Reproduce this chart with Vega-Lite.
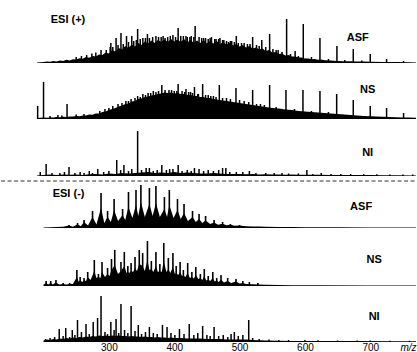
{
"$schema": "https://vega.github.io/schema/vega-lite/v6.json",
"autosize": {"type": "pad"},
"padding": 0,
"background": "white",
"config": {"view": {"stroke": null}},
"spacing": 0,
"bounds": "flush",
"datasets": {
"e1": [{"mz":190,"v":0.5},{"mz":195,"v":0.8},{"mz":200,"v":1},{"mz":205,"v":1.4},{"mz":210,"v":1.2},{"mz":215,"v":2},{"mz":220,"v":1.6},{"mz":225,"v":2.4},{"mz":230,"v":2},{"mz":235,"v":3.2},{"mz":240,"v":2.6},{"mz":245,"v":3.8},{"mz":250,"v":3.4},{"mz":255,"v":4.8},{"mz":260,"v":4.2},{"mz":265,"v":6},{"mz":270,"v":5.2},{"mz":275,"v":7},{"mz":280,"v":6.5},{"mz":285,"v":8.5},{"mz":290,"v":8},{"mz":295,"v":10.5},{"mz":300,"v":9.5},{"mz":305,"v":13},{"mz":310,"v":11.5},{"mz":315,"v":15},{"mz":320,"v":13.5},{"mz":325,"v":17},{"mz":330,"v":15},{"mz":335,"v":18.5},{"mz":340,"v":16.5},{"mz":345,"v":20},{"mz":350,"v":18},{"mz":355,"v":21.5},{"mz":360,"v":19.5},{"mz":365,"v":22.5},{"mz":370,"v":20},{"mz":375,"v":23},{"mz":380,"v":21},{"mz":385,"v":23.5},{"mz":390,"v":21},{"mz":395,"v":24},{"mz":400,"v":21.5},{"mz":405,"v":23.5},{"mz":410,"v":21},{"mz":415,"v":24},{"mz":420,"v":20.5},{"mz":425,"v":23},{"mz":430,"v":20},{"mz":435,"v":22.5},{"mz":440,"v":20},{"mz":445,"v":23},{"mz":450,"v":19.5},{"mz":455,"v":22},{"mz":460,"v":19.5},{"mz":465,"v":22},{"mz":470,"v":19},{"mz":475,"v":21},{"mz":480,"v":18.5},{"mz":485,"v":20},{"mz":490,"v":17.5},{"mz":495,"v":19},{"mz":500,"v":16.5},{"mz":505,"v":18},{"mz":510,"v":15.5},{"mz":515,"v":17},{"mz":520,"v":14.5},{"mz":525,"v":15.5},{"mz":530,"v":13.5},{"mz":535,"v":14.5},{"mz":540,"v":12},{"mz":545,"v":13},{"mz":550,"v":10.5},{"mz":555,"v":11},{"mz":560,"v":9},{"mz":565,"v":9.5},{"mz":570,"v":7.5},{"mz":575,"v":8},{"mz":580,"v":6.5},{"mz":585,"v":6.5},{"mz":590,"v":5.5},{"mz":595,"v":5.5},{"mz":600,"v":4.5},{"mz":605,"v":4.5},{"mz":610,"v":3.8},{"mz":615,"v":4},{"mz":620,"v":3.2},{"mz":625,"v":3.4},{"mz":630,"v":2.8},{"mz":640,"v":2.4},{"mz":650,"v":2},{"mz":660,"v":1.8},{"mz":670,"v":1.7},{"mz":680,"v":1.5},{"mz":690,"v":1.4},{"mz":700,"v":1.3},{"mz":720,"v":1.1},{"mz":740,"v":1},{"mz":760,"v":0.8},{"mz":770,"v":0.6}],
"k1": [{"mz":250,"v":6},{"mz":258,"v":7},{"mz":266,"v":8},{"mz":274,"v":9.5},{"mz":280,"v":10.5},{"mz":288,"v":13},{"mz":296,"v":13},{"mz":302,"v":16},{"mz":303,"v":20},{"mz":306,"v":16},{"mz":311,"v":25},{"mz":314,"v":18},{"mz":318.5,"v":30},{"mz":322,"v":19},{"mz":327,"v":27},{"mz":330,"v":21},{"mz":335,"v":27},{"mz":338,"v":22},{"mz":342,"v":23},{"mz":344,"v":34},{"mz":348,"v":24},{"mz":352,"v":25},{"mz":356,"v":25},{"mz":359,"v":29},{"mz":362,"v":25},{"mz":367,"v":26},{"mz":372,"v":27},{"mz":376,"v":26},{"mz":380,"v":26},{"mz":383,"v":27},{"mz":386,"v":25},{"mz":390,"v":26},{"mz":394,"v":27},{"mz":398,"v":28},{"mz":402,"v":26},{"mz":406,"v":35},{"mz":410,"v":27},{"mz":414,"v":27},{"mz":418,"v":27},{"mz":420,"v":26},{"mz":424,"v":26},{"mz":426,"v":27},{"mz":430,"v":26},{"mz":432,"v":37},{"mz":438,"v":26},{"mz":442,"v":25},{"mz":445,"v":25},{"mz":448,"v":25},{"mz":452,"v":24},{"mz":455,"v":25},{"mz":457,"v":26},{"mz":462,"v":24},{"mz":464,"v":24},{"mz":468,"v":24},{"mz":470,"v":25},{"mz":474,"v":23},{"mz":476,"v":23},{"mz":480,"v":22},{"mz":483,"v":21},{"mz":486,"v":22},{"mz":488,"v":22},{"mz":492,"v":21},{"mz":495,"v":27},{"mz":498,"v":20},{"mz":503,"v":20},{"mz":507,"v":20},{"mz":512,"v":19},{"mz":516,"v":19},{"mz":520,"v":26},{"mz":526,"v":18},{"mz":530,"v":17},{"mz":534,"v":23},{"mz":540,"v":16},{"mz":546,"v":29},{"mz":551,"v":14},{"mz":556,"v":13},{"mz":559,"v":13},{"mz":565,"v":11},{"mz":572,"v":44},{"mz":578,"v":9},{"mz":585,"v":12},{"mz":590,"v":7},{"mz":597.5,"v":39},{"mz":610,"v":6},{"mz":623,"v":25},{"mz":636,"v":4},{"mz":649,"v":17},{"mz":661,"v":3},{"mz":674,"v":14},{"mz":687,"v":2.5},{"mz":700,"v":9},{"mz":725,"v":4},{"mz":751,"v":2}],
"e2": [{"mz":190,"v":1},{"mz":195,"v":1.2},{"mz":200,"v":1.5},{"mz":205,"v":1.2},{"mz":210,"v":1.6},{"mz":215,"v":1.4},{"mz":220,"v":2},{"mz":225,"v":1.7},{"mz":230,"v":2.3},{"mz":235,"v":2},{"mz":240,"v":2.6},{"mz":245,"v":2.4},{"mz":250,"v":3},{"mz":255,"v":2.8},{"mz":260,"v":3.6},{"mz":265,"v":3.4},{"mz":270,"v":4.4},{"mz":275,"v":4.2},{"mz":280,"v":5.5},{"mz":285,"v":5.5},{"mz":290,"v":7},{"mz":295,"v":7.5},{"mz":300,"v":9},{"mz":305,"v":10},{"mz":310,"v":11},{"mz":315,"v":12.5},{"mz":320,"v":13.5},{"mz":325,"v":15},{"mz":330,"v":15.5},{"mz":335,"v":17.5},{"mz":340,"v":18},{"mz":345,"v":20},{"mz":350,"v":20.5},{"mz":355,"v":22},{"mz":360,"v":22.5},{"mz":365,"v":23.5},{"mz":370,"v":24},{"mz":375,"v":25},{"mz":380,"v":25.5},{"mz":385,"v":26.5},{"mz":390,"v":26},{"mz":395,"v":26.5},{"mz":400,"v":25.5},{"mz":405,"v":26},{"mz":410,"v":25},{"mz":415,"v":25},{"mz":420,"v":24},{"mz":425,"v":24},{"mz":430,"v":23},{"mz":435,"v":23},{"mz":440,"v":22},{"mz":445,"v":22},{"mz":450,"v":21},{"mz":455,"v":21},{"mz":460,"v":20},{"mz":465,"v":19.5},{"mz":470,"v":19},{"mz":475,"v":18.5},{"mz":480,"v":18},{"mz":485,"v":17.5},{"mz":490,"v":17},{"mz":495,"v":16.5},{"mz":500,"v":16},{"mz":505,"v":15.5},{"mz":510,"v":15},{"mz":515,"v":14.5},{"mz":520,"v":14},{"mz":530,"v":13},{"mz":540,"v":12},{"mz":550,"v":11},{"mz":560,"v":10.5},{"mz":570,"v":9.5},{"mz":580,"v":9},{"mz":590,"v":8},{"mz":600,"v":7.5},{"mz":610,"v":7},{"mz":620,"v":6.5},{"mz":630,"v":6},{"mz":640,"v":5.5},{"mz":650,"v":5},{"mz":660,"v":4.5},{"mz":670,"v":4},{"mz":680,"v":3.5},{"mz":690,"v":3},{"mz":700,"v":2.8},{"mz":710,"v":2.5},{"mz":720,"v":2.2},{"mz":730,"v":2},{"mz":740,"v":1.8},{"mz":750,"v":1.6},{"mz":760,"v":1.4},{"mz":770,"v":1.2}],
"k2": [{"mz":191,"v":13},{"mz":200,"v":37},{"mz":210,"v":3},{"mz":222,"v":4},{"mz":228,"v":3.5},{"mz":236,"v":15},{"mz":250,"v":4.5},{"mz":262,"v":5},{"mz":286,"v":8},{"mz":294,"v":10},{"mz":300,"v":11},{"mz":306,"v":13},{"mz":314,"v":15},{"mz":320,"v":16},{"mz":326,"v":18},{"mz":330,"v":18},{"mz":334,"v":20},{"mz":340,"v":21},{"mz":344,"v":23},{"mz":348,"v":22},{"mz":352,"v":25},{"mz":356,"v":24},{"mz":360,"v":26},{"mz":364,"v":26},{"mz":368,"v":28},{"mz":372,"v":27},{"mz":376,"v":28},{"mz":381,"v":34},{"mz":386,"v":29},{"mz":392,"v":29},{"mz":396,"v":29},{"mz":400,"v":28},{"mz":404,"v":28},{"mz":406,"v":35},{"mz":412,"v":28},{"mz":416,"v":27},{"mz":418,"v":30},{"mz":422,"v":27},{"mz":425,"v":27},{"mz":428,"v":26},{"mz":431,"v":32},{"mz":436,"v":25},{"mz":437,"v":25},{"mz":443.5,"v":35},{"mz":448,"v":24},{"mz":452,"v":24},{"mz":456,"v":23},{"mz":460,"v":23},{"mz":464,"v":22},{"mz":469,"v":34},{"mz":474,"v":21},{"mz":480,"v":21},{"mz":486,"v":20},{"mz":494.5,"v":31},{"mz":500,"v":19},{"mz":507,"v":18},{"mz":514,"v":17},{"mz":520,"v":29},{"mz":526,"v":15},{"mz":532,"v":15},{"mz":538,"v":14},{"mz":546,"v":34},{"mz":556,"v":12},{"mz":571,"v":29},{"mz":584,"v":10},{"mz":597,"v":29},{"mz":610,"v":8},{"mz":623,"v":28},{"mz":636,"v":7},{"mz":648.6,"v":25},{"mz":674,"v":19},{"mz":700,"v":13},{"mz":725,"v":11},{"mz":751,"v":6}],
"e3": [{"mz":190,"v":0.5},{"mz":200,"v":1},{"mz":210,"v":1.5},{"mz":220,"v":1},{"mz":230,"v":1.5},{"mz":240,"v":1.2},{"mz":250,"v":1.5},{"mz":260,"v":1},{"mz":270,"v":1.8},{"mz":280,"v":2},{"mz":290,"v":1.5},{"mz":300,"v":2.5},{"mz":310,"v":2},{"mz":320,"v":3},{"mz":330,"v":2.5},{"mz":340,"v":3},{"mz":350,"v":3.5},{"mz":360,"v":4},{"mz":370,"v":3},{"mz":380,"v":3.5},{"mz":390,"v":3},{"mz":400,"v":4},{"mz":410,"v":3},{"mz":420,"v":3.5},{"mz":430,"v":3},{"mz":440,"v":2.5},{"mz":450,"v":2.5},{"mz":460,"v":3},{"mz":470,"v":2.5},{"mz":480,"v":2},{"mz":490,"v":2},{"mz":500,"v":2},{"mz":510,"v":1.8},{"mz":520,"v":2},{"mz":530,"v":1.5},{"mz":540,"v":1.8},{"mz":550,"v":1.5},{"mz":560,"v":1.5},{"mz":570,"v":1.3},{"mz":580,"v":1.5},{"mz":590,"v":1.2},{"mz":600,"v":1.3},{"mz":620,"v":1.2},{"mz":640,"v":1.1},{"mz":660,"v":1},{"mz":680,"v":1},{"mz":700,"v":0.9},{"mz":720,"v":0.8},{"mz":740,"v":0.8},{"mz":770,"v":0.6}],
"k3": [{"mz":195,"v":4},{"mz":204,"v":12},{"mz":213,"v":3},{"mz":225,"v":3},{"mz":232,"v":4},{"mz":239,"v":9},{"mz":248,"v":3},{"mz":256,"v":4},{"mz":262,"v":3},{"mz":270,"v":5},{"mz":275,"v":3},{"mz":283,"v":7},{"mz":292,"v":4},{"mz":300,"v":5},{"mz":312,"v":16},{"mz":318,"v":6},{"mz":323,"v":11},{"mz":330,"v":5},{"mz":335,"v":7},{"mz":344,"v":45},{"mz":350,"v":6},{"mz":357,"v":8},{"mz":362,"v":8},{"mz":368,"v":5},{"mz":374,"v":6},{"mz":381,"v":11},{"mz":388,"v":6},{"mz":393,"v":7},{"mz":398,"v":7},{"mz":406,"v":11},{"mz":412,"v":5},{"mz":420,"v":6},{"mz":426,"v":5},{"mz":431,"v":8},{"mz":438,"v":7},{"mz":445,"v":5},{"mz":452,"v":6},{"mz":460,"v":5},{"mz":468,"v":6},{"mz":474,"v":8},{"mz":479,"v":8},{"mz":485,"v":4},{"mz":495,"v":4},{"mz":505,"v":4},{"mz":515,"v":5},{"mz":525,"v":3},{"mz":540,"v":3},{"mz":553,"v":3},{"mz":565,"v":3},{"mz":575,"v":2.5},{"mz":590,"v":2.5},{"mz":603,"v":6},{"mz":612,"v":2},{"mz":625,"v":3},{"mz":640,"v":2},{"mz":655,"v":2},{"mz":670,"v":2},{"mz":690,"v":1.8},{"mz":710,"v":1.8},{"mz":730,"v":1.5},{"mz":750,"v":1.5},{"mz":765,"v":1.5}],
"e4": [{"mz":200,"v":0.5},{"mz":210,"v":0.7},{"mz":220,"v":1},{"mz":230,"v":1.3},{"mz":239,"v":2.5},{"mz":245,"v":1.3},{"mz":252,"v":3.8},{"mz":257,"v":1.8},{"mz":262,"v":6},{"mz":268,"v":2.5},{"mz":275,"v":11},{"mz":281,"v":3.5},{"mz":288,"v":20},{"mz":293,"v":5},{"mz":298,"v":11},{"mz":303,"v":6},{"mz":308,"v":18},{"mz":314,"v":7},{"mz":321,"v":13},{"mz":325,"v":8},{"mz":330,"v":21},{"mz":336,"v":10},{"mz":341.5,"v":23},{"mz":345,"v":12},{"mz":349,"v":26},{"mz":355,"v":11},{"mz":362,"v":24},{"mz":367,"v":12},{"mz":372,"v":25},{"mz":378,"v":11},{"mz":385,"v":19},{"mz":389,"v":11},{"mz":392.5,"v":23},{"mz":399,"v":10},{"mz":405,"v":18},{"mz":410,"v":9},{"mz":415,"v":15},{"mz":421,"v":7},{"mz":428,"v":11},{"mz":433,"v":6},{"mz":438,"v":9},{"mz":443,"v":5},{"mz":448,"v":7.5},{"mz":455,"v":4},{"mz":461,"v":5.5},{"mz":467,"v":3.2},{"mz":474,"v":4.2},{"mz":480,"v":2.8},{"mz":486,"v":3.2},{"mz":493,"v":2.2},{"mz":500,"v":2.4},{"mz":510,"v":1.8},{"mz":520,"v":1.6},{"mz":530,"v":1.4},{"mz":540,"v":1.2},{"mz":560,"v":1},{"mz":580,"v":0.9},{"mz":600,"v":0.8},{"mz":650,"v":0.7},{"mz":700,"v":0.6},{"mz":770,"v":0.5}],
"k4": [{"mz":239,"v":3},{"mz":252,"v":5},{"mz":262,"v":8},{"mz":275,"v":17},{"mz":288,"v":35},{"mz":298,"v":17},{"mz":308,"v":29},{"mz":321,"v":19},{"mz":330,"v":36},{"mz":341.5,"v":38},{"mz":349,"v":43},{"mz":362,"v":40},{"mz":372,"v":42},{"mz":385,"v":31},{"mz":392.5,"v":38},{"mz":405,"v":29},{"mz":415,"v":24},{"mz":428,"v":17},{"mz":438,"v":14},{"mz":448,"v":12},{"mz":461,"v":8},{"mz":474,"v":6},{"mz":486,"v":4},{"mz":500,"v":3}],
"e5": [{"mz":200,"v":1.5},{"mz":204,"v":3},{"mz":207,"v":1.5},{"mz":211,"v":3},{"mz":214,"v":1.5},{"mz":219,"v":3.5},{"mz":224,"v":1.5},{"mz":230,"v":2},{"mz":235,"v":1.5},{"mz":240,"v":2},{"mz":245,"v":2},{"mz":251,"v":9},{"mz":254,"v":4},{"mz":256,"v":6},{"mz":259,"v":4},{"mz":262,"v":5.5},{"mz":265,"v":5},{"mz":267.6,"v":9},{"mz":272,"v":6},{"mz":277.7,"v":15},{"mz":281,"v":8},{"mz":284,"v":9},{"mz":287,"v":8},{"mz":289.5,"v":14},{"mz":294,"v":9},{"mz":298,"v":12},{"mz":301,"v":10},{"mz":304,"v":16},{"mz":309,"v":21},{"mz":314,"v":12},{"mz":318.5,"v":15},{"mz":323.6,"v":20},{"mz":327,"v":13},{"mz":329,"v":14},{"mz":331,"v":13},{"mz":334,"v":15},{"mz":337,"v":14},{"mz":340,"v":18},{"mz":343,"v":15},{"mz":346.5,"v":22},{"mz":351.7,"v":20},{"mz":355,"v":15},{"mz":359,"v":26},{"mz":362,"v":16},{"mz":365,"v":17},{"mz":368,"v":14},{"mz":372,"v":20},{"mz":375,"v":14},{"mz":378,"v":15},{"mz":381,"v":14},{"mz":384,"v":25},{"mz":388,"v":14},{"mz":391,"v":17},{"mz":394,"v":13},{"mz":398,"v":19},{"mz":401,"v":12},{"mz":403,"v":13},{"mz":406,"v":11},{"mz":409,"v":14},{"mz":412,"v":10},{"mz":414,"v":10.5},{"mz":417,"v":9},{"mz":420.6,"v":13},{"mz":424,"v":8},{"mz":427,"v":9},{"mz":430,"v":7.5},{"mz":433,"v":11},{"mz":437,"v":7},{"mz":440,"v":8},{"mz":443,"v":6},{"mz":446,"v":10},{"mz":449,"v":5.5},{"mz":452,"v":6.5},{"mz":455,"v":5},{"mz":459,"v":8},{"mz":462,"v":4.5},{"mz":465,"v":5.5},{"mz":468,"v":4},{"mz":471.6,"v":6.5},{"mz":476,"v":3.5},{"mz":481.8,"v":5},{"mz":487,"v":3},{"mz":494.5,"v":4.5},{"mz":500,"v":2.5},{"mz":505,"v":3},{"mz":510,"v":2},{"mz":520,"v":1.8},{"mz":530,"v":1.6},{"mz":540,"v":1.3},{"mz":560,"v":1},{"mz":580,"v":0.8},{"mz":620,"v":0.7},{"mz":700,"v":0.6},{"mz":770,"v":0.5}],
"k5": [{"mz":204,"v":5},{"mz":211,"v":5},{"mz":219,"v":6},{"mz":230,"v":3},{"mz":240,"v":3},{"mz":251,"v":16},{"mz":256,"v":9},{"mz":262,"v":8},{"mz":267.6,"v":14},{"mz":277.7,"v":26},{"mz":284,"v":12},{"mz":289.5,"v":24},{"mz":298,"v":18},{"mz":304,"v":27},{"mz":309,"v":36},{"mz":318.5,"v":24},{"mz":323.6,"v":34},{"mz":329,"v":20},{"mz":334,"v":23},{"mz":340,"v":29},{"mz":346.5,"v":36},{"mz":351.7,"v":33},{"mz":359,"v":45},{"mz":365,"v":25},{"mz":372,"v":34},{"mz":378,"v":22},{"mz":384,"v":43},{"mz":391,"v":28},{"mz":398,"v":33},{"mz":403,"v":20},{"mz":409,"v":24},{"mz":414,"v":16},{"mz":420.6,"v":23},{"mz":427,"v":14},{"mz":433,"v":19},{"mz":440,"v":12},{"mz":446,"v":17},{"mz":452,"v":10},{"mz":459,"v":14},{"mz":465,"v":8},{"mz":471.6,"v":11},{"mz":481.8,"v":8},{"mz":494.5,"v":7},{"mz":505,"v":5},{"mz":515,"v":4},{"mz":528,"v":3}],
"e6": [{"mz":200,"v":1.5},{"mz":205,"v":2.5},{"mz":210,"v":2},{"mz":215,"v":3},{"mz":220,"v":2.5},{"mz":225,"v":3.5},{"mz":230,"v":3},{"mz":235,"v":4},{"mz":240,"v":3.5},{"mz":245,"v":4.5},{"mz":250,"v":4},{"mz":255,"v":5},{"mz":260,"v":4.5},{"mz":265,"v":5.5},{"mz":270,"v":5},{"mz":275,"v":6},{"mz":280,"v":5.5},{"mz":285,"v":6.5},{"mz":290,"v":6},{"mz":295,"v":6.5},{"mz":300,"v":6},{"mz":305,"v":6.5},{"mz":310,"v":6},{"mz":315,"v":6.5},{"mz":320,"v":6},{"mz":325,"v":6},{"mz":330,"v":5.5},{"mz":335,"v":6},{"mz":340,"v":5.5},{"mz":345,"v":5.5},{"mz":350,"v":5},{"mz":355,"v":5.5},{"mz":360,"v":5},{"mz":365,"v":5},{"mz":370,"v":4.5},{"mz":375,"v":5},{"mz":380,"v":4.5},{"mz":385,"v":4.5},{"mz":390,"v":4},{"mz":395,"v":4.5},{"mz":400,"v":4},{"mz":410,"v":4},{"mz":420,"v":3.5},{"mz":430,"v":3.5},{"mz":440,"v":3.5},{"mz":450,"v":3},{"mz":460,"v":3},{"mz":470,"v":3},{"mz":480,"v":2.5},{"mz":490,"v":2.5},{"mz":500,"v":2.5},{"mz":510,"v":2.5},{"mz":520,"v":2},{"mz":530,"v":1.8},{"mz":540,"v":1.5},{"mz":560,"v":1.2},{"mz":580,"v":1},{"mz":620,"v":1},{"mz":680,"v":0.9},{"mz":740,"v":0.8},{"mz":770,"v":0.7}],
"k6": [{"mz":203,"v":3},{"mz":210,"v":4},{"mz":217,"v":5},{"mz":224,"v":13},{"mz":230,"v":6},{"mz":234,"v":14},{"mz":240,"v":5},{"mz":244,"v":12},{"mz":248,"v":7},{"mz":252,"v":22},{"mz":258,"v":10},{"mz":265,"v":18},{"mz":270,"v":8},{"mz":276,"v":20},{"mz":282.7,"v":24},{"mz":288,"v":46},{"mz":294,"v":10},{"mz":298,"v":8},{"mz":303,"v":20},{"mz":308,"v":12},{"mz":311,"v":23},{"mz":315,"v":9},{"mz":318.5,"v":38},{"mz":324,"v":12},{"mz":329,"v":9},{"mz":334,"v":36},{"mz":340,"v":11},{"mz":345,"v":17},{"mz":350,"v":8},{"mz":356,"v":10},{"mz":362,"v":15},{"mz":368,"v":9},{"mz":374,"v":8},{"mz":382,"v":17},{"mz":389,"v":15},{"mz":395,"v":9},{"mz":401,"v":7},{"mz":408,"v":13},{"mz":415,"v":8},{"mz":423,"v":18},{"mz":430,"v":7},{"mz":436,"v":9},{"mz":443.5,"v":16},{"mz":450,"v":7},{"mz":455,"v":6},{"mz":461,"v":15},{"mz":468,"v":6},{"mz":475,"v":7},{"mz":482,"v":5},{"mz":487,"v":8},{"mz":492,"v":10},{"mz":498,"v":6},{"mz":505,"v":7},{"mz":514,"v":22},{"mz":520,"v":4},{"mz":530,"v":3},{"mz":545,"v":2.5},{"mz":560,"v":2},{"mz":575,"v":2},{"mz":600,"v":2},{"mz":620,"v":1.8},{"mz":650,"v":1.5},{"mz":680,"v":1.5},{"mz":700,"v":1.5},{"mz":730,"v":1.3},{"mz":760,"v":1.2}]
},
"vconcat": [
{"width": 379, "height": 63, "layer": [
 {"data": {"name": "e1"}, "mark": {"type": "area", "color": "black"}, "encoding": {"x": {"field": "mz", "type": "quantitative", "scale": {"domain": [190, 770], "nice": false, "zero": false}, "axis": null}, "y": {"field": "v", "type": "quantitative", "scale": {"domain": [0, 63], "nice": false}, "axis": null}}},
 {"data": {"name": "k1"}, "mark": {"type": "rule", "color": "black", "strokeWidth": 1.5}, "encoding": {"x": {"field": "mz", "type": "quantitative"}, "y": {"field": "v", "type": "quantitative"}, "y2": {"datum": 0}}},
 {"data": {"values": [{"t": "ESI (+)"}]}, "mark": {"type": "text", "font": "Liberation Sans", "fontWeight": "bold", "fontSize": 11, "align": "left", "baseline": "middle", "color": "black"}, "encoding": {"x": {"datum": 211}, "y": {"datum": 43}, "text": {"field": "t"}}},
 {"data": {"values": [{"t": "ASF"}]}, "mark": {"type": "text", "font": "Liberation Sans", "fontWeight": "bold", "fontSize": 11, "align": "center", "baseline": "middle", "color": "black"}, "encoding": {"x": {"datum": 681}, "y": {"datum": 25}, "text": {"field": "t"}}}
]},
{"width": 379, "height": 56, "layer": [
 {"data": {"name": "e2"}, "mark": {"type": "area", "color": "black"}, "encoding": {"x": {"field": "mz", "type": "quantitative", "scale": {"domain": [190, 770], "nice": false, "zero": false}, "axis": null}, "y": {"field": "v", "type": "quantitative", "scale": {"domain": [0, 56], "nice": false}, "axis": null}}},
 {"data": {"name": "k2"}, "mark": {"type": "rule", "color": "black", "strokeWidth": 1.5}, "encoding": {"x": {"field": "mz", "type": "quantitative"}, "y": {"field": "v", "type": "quantitative"}, "y2": {"datum": 0}}},
 {"data": {"values": [{"t": "NS"}]}, "mark": {"type": "text", "font": "Liberation Sans", "fontWeight": "bold", "fontSize": 11, "align": "center", "baseline": "middle", "color": "black"}, "encoding": {"x": {"datum": 696}, "y": {"datum": 29}, "text": {"field": "t"}}}
]},
{"width": 379, "height": 57, "layer": [
 {"data": {"name": "e3"}, "mark": {"type": "area", "color": "black"}, "encoding": {"x": {"field": "mz", "type": "quantitative", "scale": {"domain": [190, 770], "nice": false, "zero": false}, "axis": null}, "y": {"field": "v", "type": "quantitative", "scale": {"domain": [0, 57], "nice": false}, "axis": null}}},
 {"data": {"name": "k3"}, "mark": {"type": "rule", "color": "black", "strokeWidth": 1.5}, "encoding": {"x": {"field": "mz", "type": "quantitative"}, "y": {"field": "v", "type": "quantitative"}, "y2": {"datum": 0}}},
 {"data": {"values": [{"t": "NI"}]}, "mark": {"type": "text", "font": "Liberation Sans", "fontWeight": "bold", "fontSize": 11, "align": "center", "baseline": "middle", "color": "black"}, "encoding": {"x": {"datum": 696}, "y": {"datum": 23}, "text": {"field": "t"}}}
]},
{"width": 379, "height": 52, "layer": [
 {"data": {"name": "e4"}, "mark": {"type": "area", "color": "black"}, "encoding": {"x": {"field": "mz", "type": "quantitative", "scale": {"domain": [190, 770], "nice": false, "zero": false}, "axis": null}, "y": {"field": "v", "type": "quantitative", "scale": {"domain": [0, 52], "nice": false}, "axis": null}}},
 {"data": {"name": "k4"}, "mark": {"type": "rule", "color": "black", "strokeWidth": 1.6}, "encoding": {"x": {"field": "mz", "type": "quantitative"}, "y": {"field": "v", "type": "quantitative"}, "y2": {"datum": 0}}},
 {"data": {"values": [{"t": "sep"}]}, "mark": {"type": "rule", "color": "#333", "strokeWidth": 1, "strokeDash": [4, 2.5]}, "encoding": {"x": {"datum": 135}, "x2": {"datum": 770}, "y": {"datum": 47}}},
 {"data": {"values": [{"t": "ESI (-)"}]}, "mark": {"type": "text", "font": "Liberation Sans", "fontWeight": "bold", "fontSize": 11, "align": "left", "baseline": "middle", "color": "black"}, "encoding": {"x": {"datum": 214}, "y": {"datum": 34}, "text": {"field": "t"}}},
 {"data": {"values": [{"t": "ASF"}]}, "mark": {"type": "text", "font": "Liberation Sans", "fontWeight": "bold", "fontSize": 11, "align": "center", "baseline": "middle", "color": "black"}, "encoding": {"x": {"datum": 686}, "y": {"datum": 21}, "text": {"field": "t"}}}
]},
{"width": 379, "height": 58, "layer": [
 {"data": {"name": "e5"}, "mark": {"type": "area", "color": "black"}, "encoding": {"x": {"field": "mz", "type": "quantitative", "scale": {"domain": [190, 770], "nice": false, "zero": false}, "axis": null}, "y": {"field": "v", "type": "quantitative", "scale": {"domain": [0, 58], "nice": false}, "axis": null}}},
 {"data": {"name": "k5"}, "mark": {"type": "rule", "color": "black", "strokeWidth": 1.6}, "encoding": {"x": {"field": "mz", "type": "quantitative"}, "y": {"field": "v", "type": "quantitative"}, "y2": {"datum": 0}}},
 {"data": {"values": [{"t": "NS"}]}, "mark": {"type": "text", "font": "Liberation Sans", "fontWeight": "bold", "fontSize": 11, "align": "center", "baseline": "middle", "color": "black"}, "encoding": {"x": {"datum": 706}, "y": {"datum": 26}, "text": {"field": "t"}}}
]},
{"width": 379, "height": 56, "layer": [
 {"data": {"name": "e6"}, "mark": {"type": "area", "color": "black"}, "encoding": {"x": {"field": "mz", "type": "quantitative", "scale": {"domain": [190, 770], "nice": false, "zero": false}, "axis": {"values": [300, 400, 500, 600, 700], "ticks": false, "domain": false, "grid": false, "labelFont": "Liberation Sans", "labelFontSize": 10, "labelColor": "black", "labelPadding": 0, "title": "m/z", "titleFont": "Liberation Sans", "titleFontSize": 10, "titleFontStyle": "italic", "titleFontWeight": "normal", "titleColor": "black", "titleX": 379, "titleY": 0, "titleAlign": "right", "titleBaseline": "top"}}, "y": {"field": "v", "type": "quantitative", "scale": {"domain": [0, 56], "nice": false}, "axis": null}}},
 {"data": {"name": "k6"}, "mark": {"type": "rule", "color": "black", "strokeWidth": 1.5}, "encoding": {"x": {"field": "mz", "type": "quantitative"}, "y": {"field": "v", "type": "quantitative"}, "y2": {"datum": 0}}},
 {"data": {"values": [{"t": "NI"}]}, "mark": {"type": "text", "font": "Liberation Sans", "fontWeight": "bold", "fontSize": 11, "align": "center", "baseline": "middle", "color": "black"}, "encoding": {"x": {"datum": 706}, "y": {"datum": 25}, "text": {"field": "t"}}}
]}
]
}
